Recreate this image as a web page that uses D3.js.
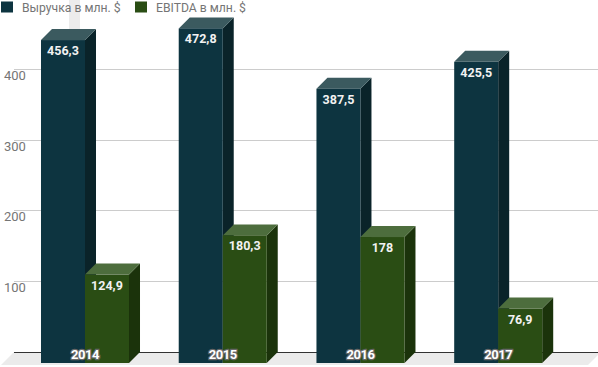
<!DOCTYPE html>
<html>
<head>
<meta charset="utf-8">
<script src="https://cdn.jsdelivr.net/npm/d3@7/dist/d3.min.js"></script>
<style>
  body { margin: 0; background: #fff; }
  svg { display: block; font-family: Roboto, "Noto Sans", sans-serif; }
</style>
</head>
<body>
<div id="chart-area"></div>
<script>
// data
const years = ["2014", "2015", "2016", "2017"];
const revenue = [456.3, 472.8, 387.5, 425.5];
const ebitda = [124.9, 180.3, 178, 76.9];
const seriesNames = ["Выручка в млн. $", "EBITDA в млн. $"];
const yTicks = [100, 200, 300, 400];

const width = 598, height = 367;
const depth = 11;          // 3d offset
const baseY = 352;         // back plane zero

const colors = [
    {front: "#0d3440", side: "#0a2329", top: "#3b5a5f"},
    {front: "#2a4d14", side: "#1b330b", top: "#4d6d3d"}
];

const svg = d3.select("#chart-area").append("svg")
    .attr("width", width)
    .attr("height", height);

const x = d3.scaleBand()
    .domain(years)
    .range([16.2, 567])
    .paddingInner(0.361)
    .paddingOuter(0.18);

const sub = d3.scaleBand()
    .domain([0, 1])
    .range([0, x.bandwidth()]);

const y = d3.scaleLinear()
    .domain([0, 400])
    .range([baseY, 68.9]);

// grey strip behind first bar
svg.append("rect")
    .attr("x", 69).attr("y", 0)
    .attr("width", 11).attr("height", 30)
    .attr("fill", "#ececec");

// floor
svg.append("polygon")
    .attr("points", [[14, baseY], [601, baseY], [588, baseY + 13], [1, baseY + 13]].join(" "))
    .attr("fill", "#ebebeb");

// gridlines
svg.append("g").selectAll("line")
    .data(yTicks)
    .enter().append("line")
    .attr("x1", 14).attr("x2", width)
    .attr("y1", d => Math.round(y(d)) + 0.5)
    .attr("y2", d => Math.round(y(d)) + 0.5)
    .attr("stroke", "#cccccc")
    .attr("stroke-width", 1);

svg.append("g").selectAll("text")
    .data(yTicks)
    .enter().append("text")
    .attr("x", 4)
    .attr("y", d => y(d) + 11)
    .attr("font-size", "13px")
    .attr("fill", "#757575")
    .text(d => d);

// baseline
svg.append("line")
    .attr("x1", 14).attr("x2", width)
    .attr("y1", baseY + 0.5).attr("y2", baseY + 0.5)
    .attr("stroke", "#333")
    .attr("stroke-width", 1);

// bars
const bars = [];
years.forEach((yr, i) => {
    [revenue[i], ebitda[i]].forEach((v, s) => {
        bars.push({year: yr, s: s, value: v});
    });
});

const fmt = v => String(v).replace(".", ",");

const barG = svg.append("g").selectAll("g")
    .data(bars)
    .enter().append("g");

barG.each(function(d) {
    const g = d3.select(this);
    const x0 = x(d.year) + sub(d.s);
    const w = sub.bandwidth();
    const yt = y(d.value) + depth;
    const yb = baseY + depth;
    const c = colors[d.s];
    // side
    g.append("polygon")
        .attr("points", [[x0 + w, yt], [x0 + w + depth, yt - depth], [x0 + w + depth, yb - depth], [x0 + w, yb]].join(" "))
        .attr("fill", c.side);
    // top
    g.append("polygon")
        .attr("points", [[x0, yt], [x0 + depth, yt - depth], [x0 + w + depth, yt - depth], [x0 + w, yt]].join(" "))
        .attr("fill", c.top);
    // front
    g.append("rect")
        .attr("x", x0).attr("y", yt)
        .attr("width", w).attr("height", yb - yt)
        .attr("fill", c.front);
    g.append("text")
        .attr("x", x0 + w / 2)
        .attr("y", yt + 15)
        .attr("text-anchor", "middle")
        .attr("font-size", "12.5px")
        .attr("font-weight", "bold")
        .attr("fill", "#f2f2f2")
        .text(fmt(d.value));
});

// year labels
svg.append("g").selectAll("text")
    .data(years)
    .enter().append("text")
    .attr("x", d => x(d) + x.bandwidth() / 2)
    .attr("y", 359)
    .attr("text-anchor", "middle")
    .attr("font-size", "13px")
    .attr("font-weight", "bold")
    .attr("fill", "#fff")
    .attr("stroke", "#666")
    .attr("stroke-width", 2.5)
    .attr("paint-order", "stroke")
    .attr("letter-spacing", "-0.5px")
    .text(d => d);

// legend
const legendX = [1, 135];
seriesNames.forEach((name, i) => {
    svg.append("rect")
        .attr("x", legendX[i]).attr("y", 1.5)
        .attr("width", 12).attr("height", 11)
        .attr("fill", colors[i].front);
    svg.append("text")
        .attr("x", legendX[i] + 21)
        .attr("y", 11.5)
        .attr("font-size", "12.2px")
        .attr("fill", "#757575")
        .text(name);
});
</script>
</body>
</html>
